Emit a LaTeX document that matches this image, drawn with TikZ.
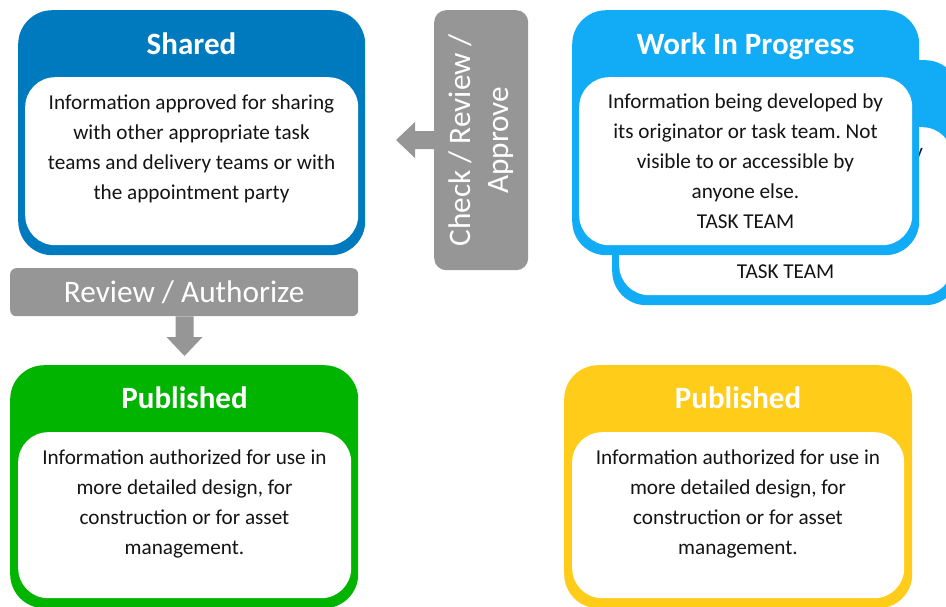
\documentclass[tikz,border=0pt]{standalone}
\usepackage{fontspec}
\setmainfont{Carlito}
\usetikzlibrary{calc}
\frenchspacing

\definecolor{sharedblue}{RGB}{0,122,190}
\definecolor{wipblue}{RGB}{18,172,246}
\definecolor{pubgreen}{RGB}{0,180,0}
\definecolor{pubyellow}{RGB}{255,204,26}
\definecolor{flowgray}{RGB}{150,150,150}
\definecolor{bodytext}{RGB}{20,20,20}

\tikzset{
  outerbox/.style={rounded corners=34pt, inner sep=0pt, anchor=north west, draw=none},
  innerbox/.style={fill=white, rounded corners=30pt, inner sep=0pt, anchor=north west, draw=none},
  title/.style={font=\fontsize{31}{36}\selectfont\bfseries, text=white, inner sep=0pt,
                text height=20pt, text depth=0pt},
  body/.style={font=\fontsize{21.2}{30}\selectfont\frenchspacing, text=bodytext, align=center, inner sep=0pt},
  stepbar/.style={fill=flowgray, inner sep=0pt, anchor=north west, text=white,
                  font=\fontsize{31.3}{38}\selectfont},
  flowarrow/.style={fill=flowgray, draw=none},
}

\begin{document}
\begin{tikzpicture}[x=1pt, y=-1pt]
\clip (0,0) rectangle (946,606);

% Shared
\node[outerbox, fill=sharedblue, minimum width=347pt, minimum height=245pt] (shared) at (18,10) {};
\node[innerbox, minimum width=333pt, minimum height=168pt] (sharedIn) at (25,77) {};
\node[title] (sharedT) at (191.5,44) {Shared};
\node[body] (sharedTx) at (191.5,149) {Information approved for sharing\\with other appropriate task\\teams and delivery teams or with\\the appointment party};

% Work In Progress: a second card stacked behind the first;
% only the parts of its text left uncovered are set
\node[outerbox, fill=wipblue, minimum width=347pt, minimum height=245pt] (wipBack) at (612,60) {};
\node[innerbox, minimum width=333pt, minimum height=168pt] (wipBackIn) at (619,127) {};
\node[body] (wipBackTx) at (785.5,211.5) {\phantom{Information being developed} by\\\mbox{}\\\mbox{}\\\mbox{}\\TASK TEAM};

\node[outerbox, fill=wipblue, minimum width=347pt, minimum height=245pt] (wip) at (572,10) {};
\node[innerbox, minimum width=333pt, minimum height=168pt] (wipIn) at (579,77) {};
\node[title] (wipT) at (745.5,44) {Work In Progress};
\node[body] (wipTx) at (745.5,161.5) {Information being developed by\\its originator or task team. Not\\visible to or accessible by\\anyone else.\\TASK TEAM};

% Check / Review / Approve
\node[stepbar, minimum width=94pt, minimum height=260pt, rounded corners=12pt] (check) at (434,10) {};
\node[rotate=90, align=center, text=white, inner sep=0pt,
      font=\fontsize{31.3}{38}\selectfont] (checkTx) at (check.center) {Check / Review /\\Approve};
\coordinate (chkTip) at (396,140);
\fill[flowarrow] (chkTip) -- ++(19,-18) -- ++(0,9)
  -- ($(check.west |- chkTip)+(0,-9)$) -- ($(check.west |- chkTip)+(0,9)$)
  -- ($(chkTip)+(19,9)$) -- ++(0,9) -- cycle;

% Review / Authorize
\node[stepbar, minimum width=348pt, minimum height=48pt, rounded corners=6pt] (review) at (10,268) {Review / Authorize};
\coordinate (revTip) at (184.5,356);
\fill[flowarrow] (revTip) -- ++(-18,-19) -- ++(9,0)
  -- ($(review.south -| revTip)+(-9,0)$) -- ($(review.south -| revTip)+(9,0)$)
  -- ($(revTip)+(9,-19)$) -- ++(9,0) -- cycle;

% Published (green)
\node[outerbox, fill=pubgreen, minimum width=348pt, minimum height=243pt] (pubG) at (10,365) {};
\node[innerbox, minimum width=333pt, minimum height=166pt] (pubGIn) at (18,432) {};
\node[title] (pubGT) at (184.5,398) {Published};
\node[body] (pubGTx) at (184.5,503.5) {Information authorized for use in\\more detailed design, for\\construction or for asset\\management.};

% Published (yellow)
\node[outerbox, fill=pubyellow, minimum width=348pt, minimum height=243pt] (pubY) at (564,365) {};
\node[innerbox, minimum width=332pt, minimum height=166pt] (pubYIn) at (572,432) {};
\node[title] (pubYT) at (738,398) {Published};
\node[body] (pubYTx) at (738,503.5) {Information authorized for use in\\more detailed design, for\\construction or for asset\\management.};
\end{tikzpicture}
\end{document}
